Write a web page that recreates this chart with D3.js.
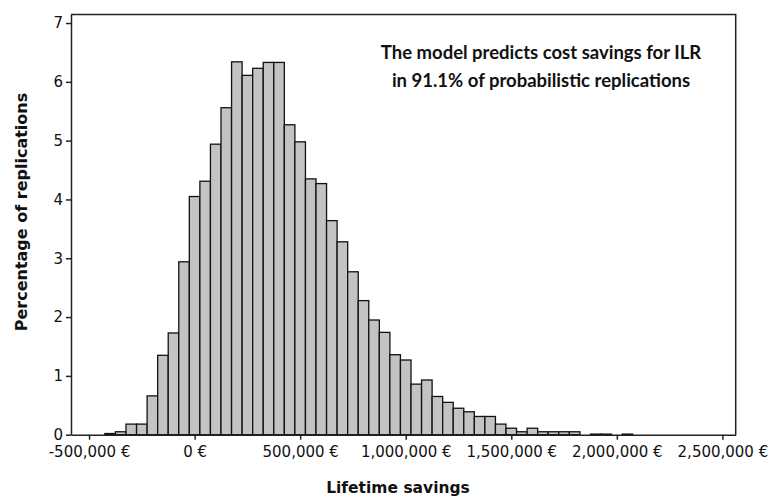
<!DOCTYPE html>
<html>
<head>
<meta charset="utf-8">
<script src="https://cdn.jsdelivr.net/npm/d3@7"></script>
<style>
  body { margin: 0; background: #fff; }
  svg { display: block; }
  .axis path, .axis line { stroke: #222; stroke-width: 1.5; }
</style>
</head>
<body>
<div id="chart"></div>
<script>
(function() {

    var width = 769;
    var height = 497;

    // histogram bins (centre of each 50,000 € bin) and percentage of replications
    var binCenters = [-400000, -350000, -300000, -250000, -200000, -150000, -100000, -50000,
                      0, 50000, 100000, 150000, 200000, 250000, 300000, 350000, 400000, 450000,
                      500000, 550000, 600000, 650000, 700000, 750000, 800000, 850000, 900000, 950000,
                      1000000, 1050000, 1100000, 1150000, 1200000, 1250000, 1300000, 1350000, 1400000,
                      1450000, 1500000, 1550000, 1600000, 1650000, 1700000, 1750000, 1800000, 1850000,
                      1900000, 1950000, 2000000, 2050000];
    var percents = [0.02, 0.05, 0.18, 0.18, 0.66, 1.35, 1.73, 2.94,
                    4.05, 4.31, 4.94, 5.56, 6.34, 6.11, 6.23, 6.33, 6.33, 5.27,
                    4.98, 4.35, 4.27, 3.64, 3.28, 2.77, 2.28, 1.95, 1.74, 1.36,
                    1.27, 0.86, 0.93, 0.65, 0.55, 0.45, 0.39, 0.31, 0.31,
                    0.18, 0.11, 0.05, 0.11, 0.05, 0.05, 0.05, 0.05, 0,
                    0.01, 0.01, 0, 0.01];
    var binWidth = 50000;

    var xTicks = [-500000, 0, 500000, 1000000, 1500000, 2000000, 2500000];
    var yTicks = [0, 1, 2, 3, 4, 5, 6, 7];

    var xLabel = "Lifetime savings";
    var yLabel = "Percentage of replications";
    var note = ["The model predicts cost savings for ILR",
                "in 91.1% of probabilistic replications"];

    var left = 71, right = 735.7, top = 14.5, bottom = 434.7;
    var tickFont = "DejaVu Sans, Verdana, sans-serif";

    var x = d3.scaleLinear().domain([-585500, 2563000]).range([left, right]);
    var y = d3.scaleLinear().domain([0, 7.145]).range([bottom, top]);

    var svg = d3.select("#chart").append("svg")
        .attr("width", width)
        .attr("height", height);

    var bins = binCenters.map(function(c, i) { return { c: c, p: percents[i] }; })
        .filter(function(d) { return d.p > 0; });

    // bars
    svg.selectAll("rect.bar")
        .data(bins)
        .enter()
        .append("rect")
        .attr("class", "bar")
        .attr("x", function(d) { return x(d.c - binWidth / 2); })
        .attr("y", function(d) { return y(d.p); })
        .attr("width", function(d) { return x(d.c + binWidth / 2) - x(d.c - binWidth / 2); })
        .attr("height", function(d) { return y(0) - y(d.p); })
        .style("fill", "#c3c3c3")
        .style("stroke", "#111")
        .style("stroke-width", 1.3);

    // frame (top and right)
    svg.append("path")
        .attr("d", "M" + left + "," + top + "H" + right + "V" + bottom)
        .style("fill", "none")
        .style("stroke", "#222")
        .style("stroke-width", 1.5);

    // axes
    var xAxis = svg.append("g")
        .attr("class", "axis")
        .attr("transform", "translate(0," + bottom + ")")
        .call(d3.axisBottom(x)
            .tickValues(xTicks)
            .tickSizeInner(5)
            .tickSizeOuter(0)
            .tickPadding(7)
            .tickFormat(function(d) { return d3.format(",")(d).replace("\u2212", "-") + " €"; }));

    var yAxis = svg.append("g")
        .attr("class", "axis")
        .attr("transform", "translate(" + left + ",0)")
        .call(d3.axisLeft(y)
            .tickValues(yTicks)
            .tickSizeInner(5)
            .tickSizeOuter(0)
            .tickPadding(3)
            .tickFormat(d3.format("d")));

    [xAxis, yAxis].forEach(function(g) {
        g.attr("font-family", tickFont)
            .attr("font-size", 15);
        g.selectAll("text").attr("fill", "#111");
    });

    // axis titles
    svg.append("text")
        .attr("x", 398)
        .attr("y", 493)
        .attr("text-anchor", "middle")
        .style("font-family", tickFont)
        .style("font-weight", "bold")
        .style("font-size", "15.5px")
        .style("fill", "#111")
        .text(xLabel);

    svg.append("text")
        .attr("transform", "translate(27,212) rotate(-90)")
        .attr("text-anchor", "middle")
        .style("font-family", tickFont)
        .style("font-weight", "bold")
        .style("font-size", "16px")
        .style("fill", "#111")
        .text(yLabel);

    // annotation
    svg.selectAll("text.note")
        .data(note)
        .enter()
        .append("text")
        .attr("class", "note")
        .attr("x", 541)
        .attr("y", function(d, i) { return 58.5 + i * 28.5; })
        .attr("text-anchor", "middle")
        .style("font-family", "Lato, 'Open Sans', sans-serif")
        .style("font-weight", "bold")
        .style("font-size", "18.5px")
        .style("fill", "#111")
        .text(function(d) { return d; });

})();
</script>
</body>
</html>
